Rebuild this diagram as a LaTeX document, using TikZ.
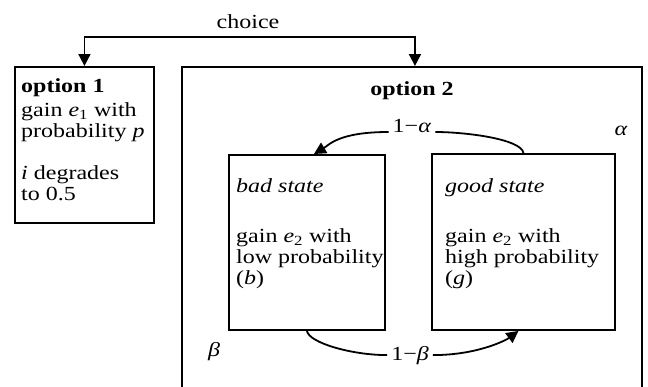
\documentclass[tikz,border=0pt]{standalone}
\usepackage{fontspec}
\setmainfont{Liberation Serif}[FakeStretch=1.2]
\usetikzlibrary{arrows.meta}

\begin{document}
\begin{tikzpicture}[x=1pt,y=-1pt,
  box/.style={draw,line width=1.9pt,inner sep=0pt},
  txt/.style={align=left,inner sep=0pt,font=\fontsize{20}{21}\selectfont},
  lbl/.style={inner sep=4pt,font=\fontsize{20}{21}\selectfont},
  con/.style={line width=1.8pt},
  arr/.style={con,-{Triangle[length=12pt,width=12pt]}}]
\useasboundingbox (0,0) rectangle (648,386);
\clip (0,0) rectangle (648,386);
% the two options
\node[box,anchor=north west,minimum width=139pt,minimum height=156pt] (opt1) at (14,66) {};
\node[box,anchor=north west,minimum width=460pt,minimum height=400pt] (opt2) at (181,66) {};
\node[txt,anchor=north west] (opt1txt) at (21,78)
  {\textbf{option 1}\\[3pt] gain \textit{e}\textsubscript{1} with\\ probability \textit{p}\\[21pt] \textit{i} degrades\\ to 0.5};
\node[lbl,anchor=base] (opt2txt) at (412,95) {\textbf{option 2}};
% states
\node[box,anchor=north west,minimum width=156pt,minimum height=175pt] (bad) at (228,154) {};
\node[box,anchor=north west,minimum width=183pt,minimum height=176pt] (good) at (431,153) {};
\node[txt,anchor=north west] (badtxt) at (236,178)
  {\textit{bad state}\\[29pt] gain \textit{e}\textsubscript{2} with\\ low probability\\ (\textit{b})};
\node[txt,anchor=north west] (goodtxt) at (445,178)
  {\textit{good state}\\[29pt] gain \textit{e}\textsubscript{2} with\\ high probability\\ (\textit{g})};
\node[lbl,anchor=base] (alab) at (412,132) {1−\textit{α}};
\node[lbl,anchor=base] (blab) at (410,360) {1−\textit{β}};
\node[lbl,anchor=base] (alpha) at (621,135) {\textit{α}};
\node[lbl,anchor=base] (beta) at (214,356) {\textit{β}};
% choice
\node[lbl,anchor=base] (choice) at (248,28) {choice};
\coordinate (fork) at (248,37);
\draw[arr] (fork) -| (opt1.north);
\draw[arr] (fork) -| ([xshift=3pt]opt2.north);
% transitions
\draw[con] (good.north) .. controls +(-2,-14) and +(30,0) .. (alab.base east);
\draw[arr] (alab.base west) .. controls +(-50,0) and +(15,-9) .. ([xshift=7pt]bad.north);
\draw[con] (bad.south) .. controls +(2,12) and +(-35,0) .. (blab.west);
\draw[arr] (blab.east) .. controls +(45,0) and +(-12,9) .. ([xshift=-5pt]good.south);
\end{tikzpicture}
\end{document}
